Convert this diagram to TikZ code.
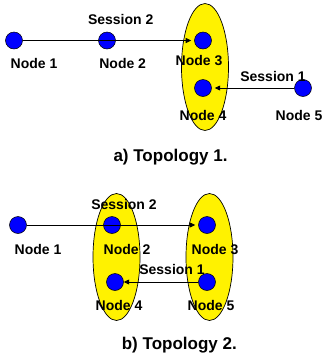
\documentclass[tikz,border=0pt]{standalone}
\usepackage{fontspec}
\setmainfont{Liberation Sans}
\usetikzlibrary{arrows.meta,shapes.geometric}
\begin{document}
\begin{tikzpicture}[x=1pt,y=-1pt,
 dot/.style={circle,draw=black,fill=blue,minimum size=17pt,inner sep=0pt,line width=0.5pt},
 lbl/.style={font=\fontsize{14}{15}\selectfont\bfseries,inner sep=0pt,anchor=base},
 captxt/.style={font=\fontsize{17}{18}\selectfont\bfseries,inner sep=0pt,anchor=base},
 group/.style={ellipse,draw=black,fill=yellow,line width=0.7pt,minimum width=47pt,minimum height=127pt,inner sep=0pt},
 conn/.style={-{Triangle[length=5.5pt,width=5pt]},line width=0.8pt,shorten >=3pt}]
\useasboundingbox (0,0) rectangle (323,360);
% ---- a) Topology 1
\node[group] (ga) at (205,67) {};
\node[dot] (a1) at (14,40.5) {};
\node[dot] (a2) at (107,40.5) {};
\node[dot] (a3) at (203,40.5) {};
\node[dot] (a4) at (203,88) {};
\node[dot] (a5) at (303,88) {};
\draw[conn] (a1) -- (a3);
\draw[conn] (a5) -- (a4);
\node[lbl] (ls2a) at (120.7,24) {Session 2};
\node[lbl] (la1) at (34,68.3) {Node 1};
\node[lbl] (la2) at (122.7,68.3) {Node 2};
\node[lbl] (la3) at (199,65) {Node 3};
\node[lbl] (ls1a) at (273,81) {Session 1};
\node[lbl] (la4) at (203,120.7) {Node 4};
\node[lbl] (la5) at (299,120.7) {Node 5};
\node[captxt] (capa) at (170.5,161.7) {a) Topology 1.};
% ---- b) Topology 2
\node[group] (gb1) at (116.5,257) {};
\node[group] (gb2) at (209.5,257) {};
\node[dot] (b1) at (18,225) {};
\node[dot] (b2) at (112,225) {};
\node[dot] (b3) at (207,225) {};
\node[dot] (b4) at (115,282) {};
\node[dot] (b5) at (207,282) {};
\draw[conn] (b1) -- (b3);
\draw[conn,shorten >=0pt] (b5) -- (b4);
\node[lbl] (ls2b) at (124,209) {Session 2};
\node[lbl] (lb1) at (38,254) {Node 1};
\node[lbl] (lb2) at (127,254) {Node 2};
\node[lbl] (lb3) at (215,254) {Node 3};
\node[lbl] (ls1b) at (172,274) {Session 1};
\node[lbl] (lb4) at (119,310) {Node 4};
\node[lbl] (lb5) at (211,310) {Node 5};
\node[captxt] (capb) at (179.3,349.3) {b) Topology 2.};
\end{tikzpicture}
\end{document}
